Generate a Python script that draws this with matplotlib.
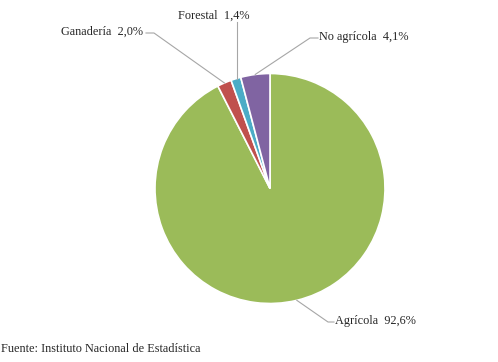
import numpy as np
import matplotlib
matplotlib.use('Agg')
import matplotlib.pyplot as plt

categories = ['Agrícola', 'Ganadería', 'Forestal', 'No agrícola']
shares = [92.6, 2.0, 1.4, 4.1]
colors = ['#9BBB59', '#C0504D', '#4BACC6', '#8064A2']
source = 'Fuente: Instituto Nacional de Estadística'

W, H = 498, 362
fig = plt.figure(figsize=(W/100, H/100), dpi=100)
ax = fig.add_axes([0, 0, 1, 1])
ax.set_xlim(0, W)
ax.set_ylim(0, H)
ax.set_aspect('equal')
ax.axis('off')

cx, cy, r = 270, H - 188.5, 115
wedges, _ = ax.pie(shares, colors=colors, startangle=90, counterclock=False,
                   center=(cx, cy), radius=r, normalize=True,
                   wedgeprops=dict(edgecolor='white', linewidth=1.2))
ax.set_xlim(0, W)
ax.set_ylim(0, H)

txt = dict(fontsize=8.8, color='#262626', family=['Liberation Serif', 'DejaVu Serif'])
lc = dict(color='#A6A6A6', lw=0.8)

# label layout: (text x, text y, ha, elbow point) in pixel coords from top
layout = {
    'Agrícola': (335, 321, 'left', (328, 322)),
    'Ganadería': (143, 32, 'right', (154, 33)),
    'Forestal': (214, 16, 'center', (237, 22)),
    'No agrícola': (319, 37, 'left', (310, 38)),
}

for w, name, val in zip(wedges, categories, shares):
    ang = np.deg2rad((w.theta1 + w.theta2) / 2)
    px, py = cx + r*np.cos(ang), cy + r*np.sin(ang)
    tx, ty, ha, (ex, ey) = layout[name]
    label = f'{name}  {val:.1f}%'.replace('.', ',')
    ax.text(tx, H - ty, label, ha=ha, va='center', **txt)
    if name == 'Forestal':
        ax.plot([ex, ex], [H - ey, py], **lc)
    elif ha == 'right':
        ax.plot([tx + 3, ex, px], [H - ey, H - ey, py], **lc)
    else:
        ax.plot([tx - 1, ex, px], [H - ey, H - ey, py], **lc)

ax.text(1, H - 349, source, ha='left', va='center', **txt)

fig.savefig('out.png', dpi=100)
